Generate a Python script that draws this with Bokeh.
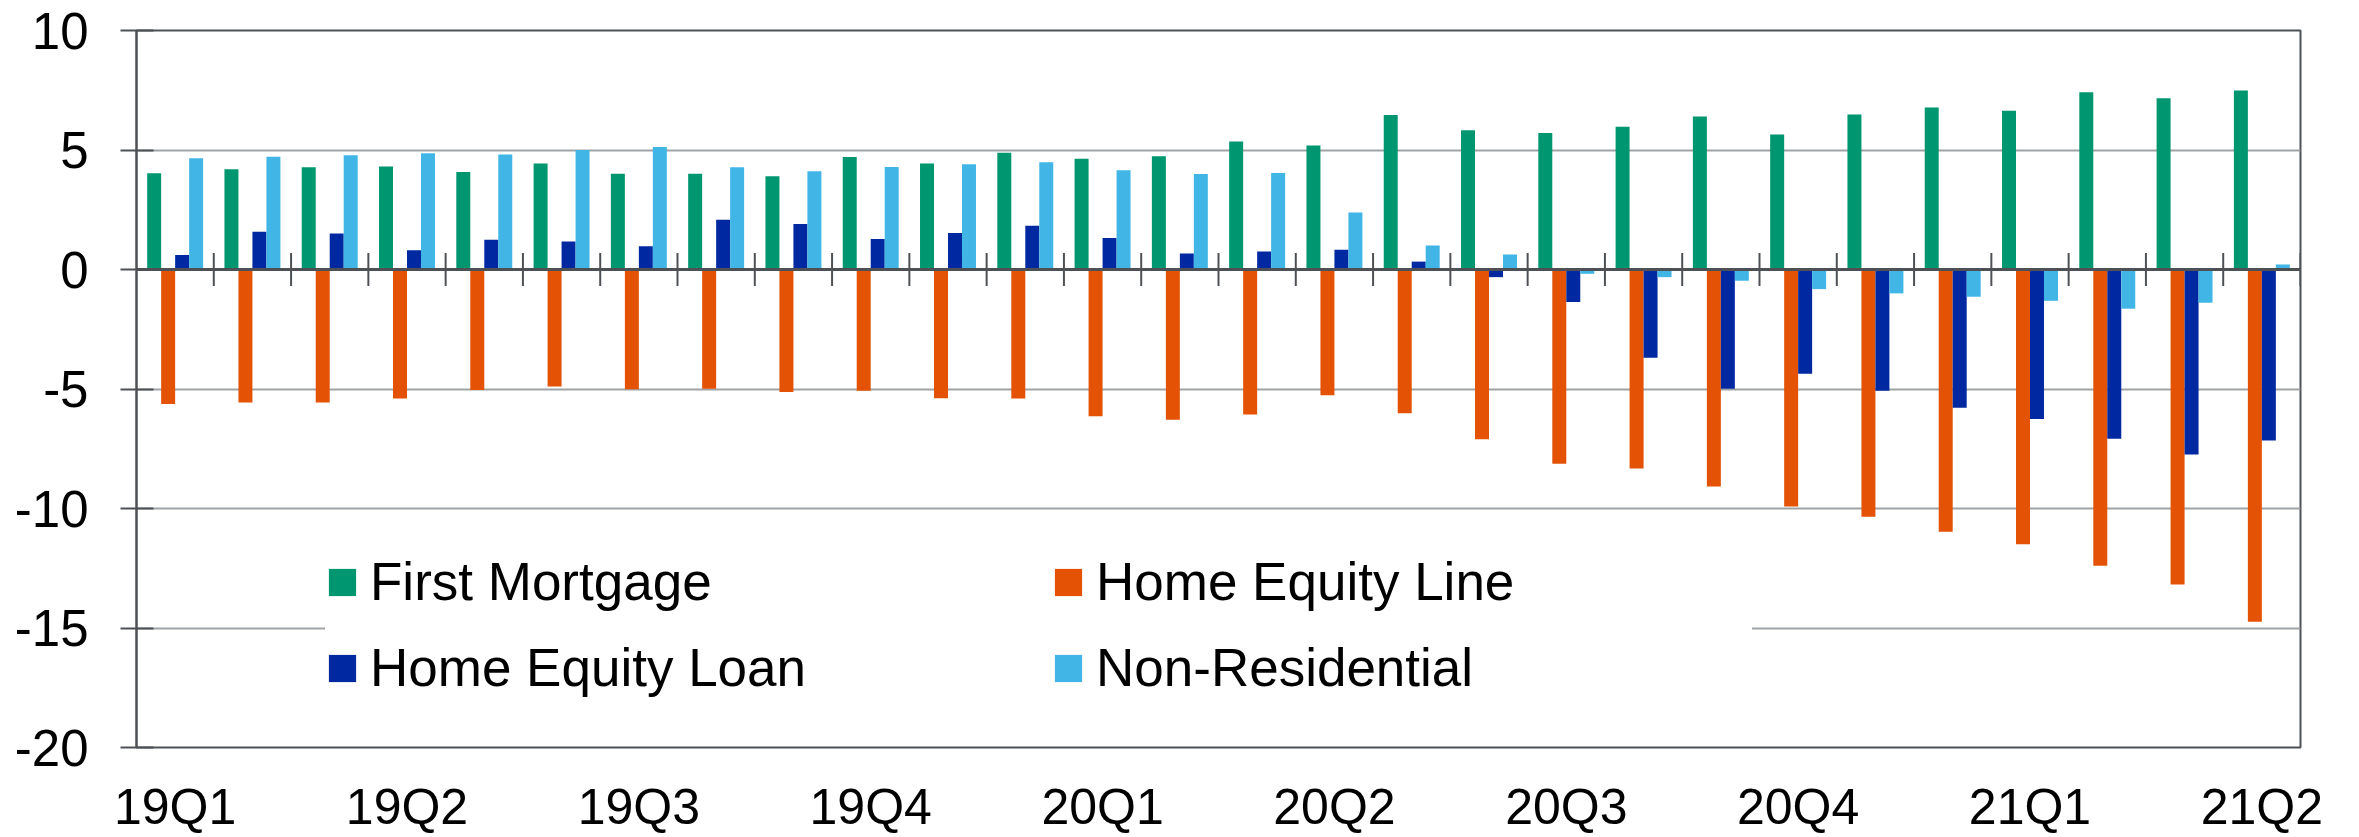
import numpy as np
from bokeh.plotting import figure
from bokeh.models import (Range1d, FixedTicker, Span, Legend, LegendItem,
                          ColumnDataSource)
from bokeh.transform import dodge
from bokeh.embed import file_html
from bokeh.resources import INLINE

# ---------------- data ----------------
quarter_labels = ["19Q1", "19Q2", "19Q3", "19Q4", "20Q1",
                  "20Q2", "20Q3", "20Q4", "21Q1", "21Q2"]
series_names = ["First Mortgage", "Home Equity Line",
                "Home Equity Loan", "Non-Residential"]
first_mortgage = [4.03, 4.19, 4.28, 4.31, 4.08, 4.44, 4.01, 4.01, 3.90, 4.71,
                  4.44, 4.88, 4.63, 4.74, 5.36, 5.19, 6.46, 5.83, 5.71, 5.97,
                  6.40, 5.65, 6.49, 6.78, 6.64, 7.42, 7.17, 7.49]
home_equity_line = [-5.63, -5.57, -5.57, -5.40, -5.04, -4.90, -5.01, -4.99,
                    -5.13, -5.07, -5.39, -5.40, -6.14, -6.29, -6.07, -5.26,
                    -6.01, -7.10, -8.13, -8.33, -9.08, -9.92, -10.35, -10.97,
                    -11.50, -12.40, -13.18, -14.74]
home_equity_loan = [0.61, 1.58, 1.51, 0.81, 1.24, 1.17, 0.97, 2.08, 1.90, 1.28,
                    1.53, 1.83, 1.32, 0.67, 0.75, 0.83, 0.33, -0.32, -1.36,
                    -3.69, -4.99, -4.36, -5.07, -5.78, -6.26, -7.08, -7.74,
                    -7.15]
non_residential = [4.65, 4.72, 4.78, 4.86, 4.81, 5.00, 5.13, 4.28, 4.11, 4.29,
                   4.40, 4.49, 4.15, 4.00, 4.04, 2.38, 1.00, 0.63, -0.18,
                   -0.32, -0.47, -0.82, -1.00, -1.14, -1.31, -1.64, -1.39,
                   0.21]

# ---------------- styling ----------------
FONT = "Liberation Sans"
AXIS_C = "#4D5156"
GRID_C = "#A0A3A6"
colors = ["#00966F", "#E35205", "#0028A0", "#41B6E6"]

n = len(first_mortgage)
xs = np.arange(n) + 0.5
src = ColumnDataSource(dict(x=xs, fm=first_mortgage, hel=home_equity_line,
                            heloan=home_equity_loan, nr=non_residential))

p = figure(width=2359, height=837, x_range=Range1d(0, n),
           y_range=Range1d(-20, 10), output_backend="svg",
           toolbar_location=None, min_border_left=136, min_border_right=59,
           min_border_top=30, min_border_bottom=87)
p.background_fill_color = "white"
p.border_fill_color = "white"
p.outline_line_color = AXIS_C
p.outline_line_width = 2

w = 0.181
fields = ["fm", "hel", "heloan", "nr"]
offsets = [-1.5 * w, -0.5 * w, 0.5 * w, 1.5 * w]
renderers = []
for f, off, c in zip(fields, offsets, colors):
    r = p.vbar(x=dodge("x", off, range=p.x_range), top=f, bottom=0, width=w,
               source=src, fill_color=c, line_color=None)
    renderers.append(r)

# zero axis line with crossing tick marks at category boundaries
p.add_layout(Span(location=0, dimension="width", line_color=AXIS_C,
                  line_width=3))
p.scatter(x=np.arange(1, n + 1), y=np.zeros(n), marker="dash", angle=np.pi / 2,
          size=33, line_color=AXIS_C, line_width=2)

# y axis
yt = list(range(-20, 11, 5))
p.yaxis.ticker = FixedTicker(ticks=yt)
p.yaxis.major_label_overrides = {v: str(v) for v in yt}
p.yaxis.major_tick_in = 17
p.yaxis.major_tick_out = 16
p.yaxis.major_tick_line_color = AXIS_C
p.yaxis.major_tick_line_width = 2
p.yaxis.minor_tick_line_color = None
p.yaxis.axis_line_color = AXIS_C
p.yaxis.axis_line_width = 2
p.yaxis.major_label_standoff = 32
p.yaxis.major_label_text_font = FONT
p.yaxis.major_label_text_font_size = "51px"
p.yaxis.major_label_text_color = "black"

p.ygrid.ticker = FixedTicker(ticks=yt)
p.ygrid.grid_line_color = GRID_C
p.ygrid.grid_line_width = 2
p.xgrid.visible = False

# x axis
qt = [float(i) + 0.5 for i in range(0, n, 3)]
p.xaxis.ticker = FixedTicker(ticks=qt)
p.xaxis.major_label_overrides = {t: lab for t, lab in zip(qt, quarter_labels)}
p.xaxis.major_tick_in = 0
p.xaxis.major_tick_out = 0
p.xaxis.minor_tick_line_color = None
p.xaxis.axis_line_color = None
p.xaxis.major_label_standoff = 31
p.xaxis.major_label_text_font = FONT
p.xaxis.major_label_text_font_size = "50px"
p.xaxis.major_label_text_color = "black"

# legend (column-major fill: first column FM / HE Loan)
order = [0, 2, 1, 3]
items = [LegendItem(label=series_names[i], renderers=[renderers[i]])
         for i in order]
legend = Legend(items=items, ncols=2, location=(189, 49),
                glyph_width=34, glyph_height=34, label_standoff=11,
                label_width=656, spacing=25, padding=10,
                label_text_font=FONT, label_text_font_size="53px",
                label_text_color="black", background_fill_color="white",
                background_fill_alpha=1.0, border_line_color=None)
p.add_layout(legend)

open("out.html", "w").write(file_html(p, INLINE))
